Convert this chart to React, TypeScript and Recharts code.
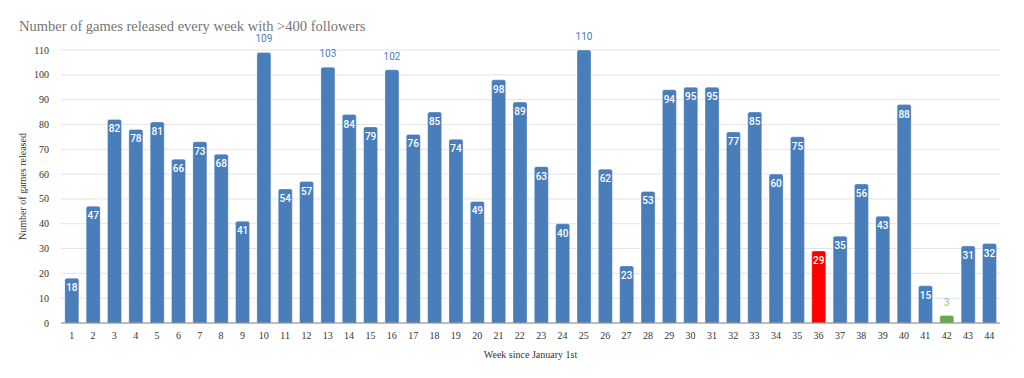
import { Bar, BarChart, CartesianGrid, Cell, LabelList, XAxis, YAxis } from 'recharts'

const weeks = Array.from({ length: 44 }, (_, i) => String(i + 1))
const released = [
  18, 47, 82, 78, 81, 66, 73, 68, 41, 109, 54, 57, 103, 84, 79, 102, 76, 85, 74, 49, 98, 89,
  63, 40, 110, 62, 23, 53, 94, 95, 95, 77, 85, 60, 75, 29, 35, 56, 43, 88, 15, 3, 31, 32,
]
const yTicks = [0, 10, 20, 30, 40, 50, 60, 70, 80, 90, 100, 110]
const highlight: Record<string, string> = { '36': '#ff0000', '42': '#6aa84f' }
const outsideLabelColor: Record<string, string> = { '42': '#8dc26f' }

const BLUE = '#4a7ebb'
const data = weeks.map((week, i) => ({ week, value: released[i] }))

const serif = '"Liberation Serif", "Times New Roman", serif'

const BarLabel = (props: any) => {
  const { x, y, width, value, index } = props
  const week = weeks[index]
  const cx = x + width / 2
  const outside = value > 100 || value < 10
  if (outside) {
    return (
      <text
        x={cx}
        y={y - 10}
        textAnchor="middle"
        fontFamily="Roboto, sans-serif"
        fontSize={10}
        fill={outsideLabelColor[week] ?? BLUE}
      >
        {value}
      </text>
    )
  }
  return (
    <text
      x={cx}
      y={y + 13}
      textAnchor="middle"
      fontFamily="Roboto, sans-serif"
      fontSize={10}
      fontWeight={500}
      fill="#ffffff"
    >
      {value}
    </text>
  )
}

export default function App() {
  return (
    <div style={{ position: 'absolute', left: 0, top: 0, width: 1024, height: 378, background: '#fff' }}>
      <div
        style={{
          position: 'absolute',
          left: 19,
          top: 18,
          fontFamily: serif,
          fontSize: 14.5,
          lineHeight: '16px',
          color: '#757575',
          whiteSpace: 'nowrap',
        }}
      >
        Number of games released every week with &gt;400 followers
      </div>
      <BarChart
        width={1024}
        height={378}
        data={data}
        margin={{ top: 50, right: 24, left: 0, bottom: 10 }}
        barCategoryGap="18%"
      >
        <CartesianGrid vertical={false} stroke="#e3e3e3" />
        <XAxis
          dataKey="week"
          interval={0}
          height={45}
          tickLine={false}
          axisLine={{ stroke: '#888' }}
          tick={{ fontFamily: serif, fontSize: 10, fill: '#333' }}
          tickMargin={3}
          label={{
            value: 'Week since January 1st',
            position: 'insideBottom',
            offset: 10,
            fontFamily: serif,
            fontSize: 10,
            fill: '#333',
          }}
        />
        <YAxis
          width={61}
          domain={[0, 110]}
          ticks={yTicks}
          interval={0}
          tickLine={false}
          axisLine={false}
          tickMargin={6}
          tick={{ fontFamily: serif, fontSize: 10, fill: '#333' }}
          label={{
            value: 'Number of games released',
            angle: -90,
            position: 'insideLeft',
            offset: 22,
            style: { textAnchor: 'middle' },
            fontFamily: serif,
            fontSize: 10,
            fill: '#333',
          }}
        />
        <Bar
          dataKey="value"
          isAnimationActive={false}
          radius={[2, 2, 0, 0]}
          stroke="rgba(255,255,255,0.3)"
          strokeWidth={1}
        >
          {data.map((d) => (
            <Cell key={d.week} fill={highlight[d.week] ?? BLUE} />
          ))}
          <LabelList dataKey="value" content={BarLabel} />
        </Bar>
      </BarChart>
    </div>
  )
}
